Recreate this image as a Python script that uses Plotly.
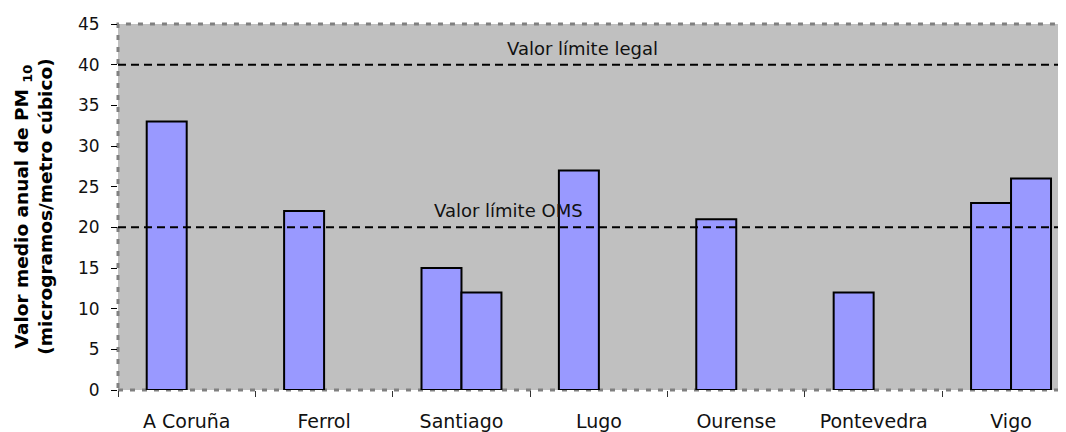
import plotly.graph_objects as go

categories = ["A Coruña", "Ferrol", "Santiago", "Lugo", "Ourense", "Pontevedra", "Vigo"]
station_1 = [33, 22, 15, 27, 21, 12, 23]
station_2 = [None, None, 12, None, None, None, 26]
limit_legal = 40
limit_oms = 20
y_ticks = [0, 5, 10, 15, 20, 25, 30, 35, 40, 45]

BAR = "#9999FF"
BG = "#C0C0C0"

fig = go.Figure()
for vals in (station_1, station_2):
    fig.add_trace(go.Bar(
        x=categories, y=vals,
        marker=dict(color=BAR, line=dict(color="black", width=2)),
        showlegend=False,
    ))

# reference lines
for yv in (limit_legal, limit_oms):
    fig.add_shape(type="line", xref="paper", yref="y", x0=0, x1=1, y0=yv, y1=yv,
                  line=dict(color="black", width=2, dash="8px,5px"), layer="above")

# dotted plot border
fig.add_shape(type="rect", xref="paper", yref="paper", x0=0, x1=1.01, y0=0, y1=1,
              line=dict(color="#808080", width=3, dash="5px,7px"), layer="below")

fig.add_annotation(text="Valor límite legal", xref="paper", yref="y",
                   x=0.49, y=42.0, showarrow=False,
                   font=dict(family="DejaVu Sans", size=18, color="#111111"))
fig.add_annotation(text="Valor límite OMS", xref="paper", yref="y",
                   x=0.331, y=22.1, showarrow=False,
                   font=dict(family="DejaVu Sans", size=18, color="#111111"))

fig.add_annotation(text="Valor medio anual de PM <sub>10</sub><br>(microgramos/metro cúbico)",
                   xref="paper", yref="paper", x=-0.09, y=0.5, textangle=-90,
                   showarrow=False, xanchor="center", yanchor="middle",
                   font=dict(family="DejaVu Sans", size=18.5, color="black", weight="bold"))

fig.update_layout(
    width=1058, height=424,
    margin=dict(l=110, r=0, t=16, b=40),
    paper_bgcolor="white", plot_bgcolor=BG,
    barmode="group", bargap=0.418, bargroupgap=0,
    xaxis=dict(type="category", range=[-0.5, 6.4], tickson="boundaries",
               ticks="outside", ticklen=6, tickcolor="#333333", tickwidth=1,
               showgrid=False, showline=False, zeroline=False,
               ticklabelstandoff=18,
               tickfont=dict(family="DejaVu Sans", size=19, color="#111111")),
    yaxis=dict(range=[0, 45], tickvals=y_ticks, ticks="outside", ticklen=6,
               tickcolor="black", tickwidth=1, showgrid=False, showline=False,
               zeroline=False, ticklabelstandoff=8,
               tickfont=dict(family="DejaVu Sans", size=17, color="#111111")),
)

fig.write_html("out.html")
